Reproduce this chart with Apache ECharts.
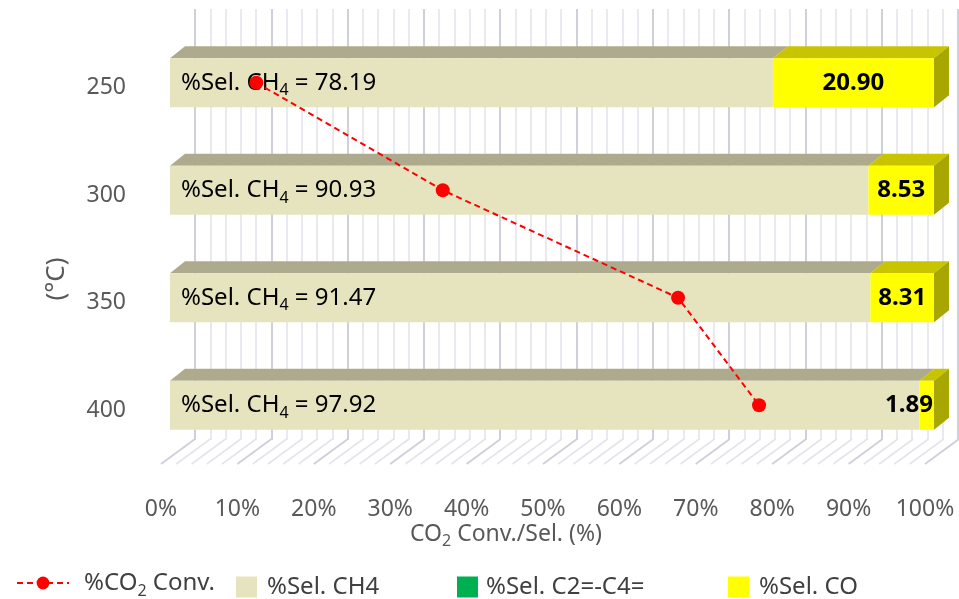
<!DOCTYPE html>
<html>
<head>
<meta charset="utf-8">
<script src="https://cdn.jsdelivr.net/npm/echarts@6/dist/echarts.min.js"></script>
<style>
  html, body { margin: 0; padding: 0; background: #ffffff; }
  #chart { width: 959px; height: 599px; }
</style>
</head>
<body>
<div id="chart"></div>
<script>
// Reaction temperature (°C) for each bar
const temperatures = ['250', '300', '350', '400'];
// Product selectivities (%)
const selCH4 = [78.19, 90.93, 91.47, 97.92];
const selC2C4 = [0, 0, 0, 0];
const selCO = [20.90, 8.53, 8.31, 1.89];
// CO2 conversion (%)
const convCO2 = [11.3, 35.7, 66.5, 77.1];
// Percentage axis
const axisMin = 0;
const axisMax = 100;
const axisStep = 10;
const minorStep = 2;

const FONT = "'Noto Sans', 'Open Sans', sans-serif";
const BAR_DEPTH = [15, -12];     // extrusion of each bar (top / side faces)
const WALL_DEPTH = [34, -25];    // floor depth from the front edge to the back wall
const BAR_FRACTION = 0.456;      // bar thickness as a share of the category band

const chart = echarts.init(document.getElementById('chart'));

// 100% stacked layout: each row is scaled to the sum of its parts
const rowTotals = selCH4.map((v, i) => v + selC2C4[i] + selCO[i]);
const seriesValues = [selCH4, selC2C4, selCO];
function stackedSegments(k) {
  return temperatures.map((t, i) => {
    let start = 0;
    for (let j = 0; j < k; j++) start += seriesValues[j][i] / rowTotals[i] * 100;
    const end = start + seriesValues[k][i] / rowTotals[i] * 100;
    return [start, end, i, seriesValues[k][i]];
  });
}

const palette = {
  ch4: { front: '#E6E4BF', top: '#AEAA8E', side: '#9C987C' },
  c2c4: { front: '#00B050', top: '#008C40', side: '#007030' },
  co: { front: '#FFFF00', top: '#C8C400', side: '#A8A600' }
};

function barRenderer(colors, hasSide, labelKind) {
  return function (params, api) {
    const start = api.value(0), end = api.value(1), row = api.value(2), raw = api.value(3);
    const p0 = api.coord([start, row]);
    const p1 = api.coord([end, row]);
    const h = api.size([0, 1])[1] * BAR_FRACTION;
    const x0 = p0[0], x1 = p1[0];
    const yTop = p0[1] - h / 2, yBot = p0[1] + h / 2;
    if (x1 - x0 < 0.05) return null;
    const dx = BAR_DEPTH[0], dy = BAR_DEPTH[1];
    const children = [
      { type: 'polygon', shape: { points: [[x0, yTop], [x0 + dx, yTop + dy], [x1 + dx, yTop + dy], [x1, yTop]] },
        style: { fill: colors.top } },
      { type: 'rect', shape: { x: x0, y: yTop, width: x1 - x0, height: h },
        style: { fill: colors.front } }
    ];
    if (hasSide) {
      children.push({ type: 'polygon',
        shape: { points: [[x1, yTop], [x1 + dx, yTop + dy], [x1 + dx, yBot + dy], [x1, yBot]] },
        style: { fill: colors.side } });
    }
    if (labelKind === 'ch4') {
      children.push({ type: 'text', x: x0 + 11, y: p0[1], z2: 5,
        style: {
          text: '{n|%Sel. CH}{s|4}{n| = ' + raw.toFixed(2) + '}',
          align: 'left', verticalAlign: 'middle',
          rich: {
            n: { fontFamily: FONT, fontSize: 24, color: '#333333', lineHeight: 32 },
            s: { fontFamily: FONT, fontSize: 16, color: '#333333', lineHeight: 16, verticalAlign: 'bottom' }
          }
        } });
    } else if (labelKind === 'co') {
      const narrow = (x1 - x0) < 60;
      children.push({ type: 'text', x: narrow ? x1 - 1 : (x0 + x1) / 2, y: p0[1], z2: 5,
        style: {
          text: raw.toFixed(2), fill: '#000000',
          fontFamily: FONT, fontSize: 24, fontWeight: 'bold',
          align: narrow ? 'right' : 'center', verticalAlign: 'middle'
        } });
    }
    return { type: 'group', children: children };
  };
}

const gridFront = { left: 161, top: 34, width: 764, height: 430 };   // floor front edge / axis labels
const gridBars = { left: 170, top: 29, width: 764, height: 430 };    // bar front faces
const gridWall = { left: 195, top: 9, width: 763, height: 431 };     // back wall

const minorTicks = [];
for (let v = axisMin; v <= axisMax + 1e-9; v += minorStep) minorTicks.push(v);

const legendText = { fontFamily: FONT, fontSize: 24, color: '#404040' };

chart.setOption({
  animation: false,
  backgroundColor: '#ffffff',
  textStyle: { fontFamily: FONT },
  grid: [gridFront, gridBars, gridWall],
  xAxis: [
    { gridIndex: 0, type: 'value', min: axisMin, max: axisMax, interval: axisStep,
      axisLine: { show: false }, axisTick: { show: false }, splitLine: { show: false },
      axisLabel: { margin: 34, formatter: '{value}%', fontFamily: FONT, fontSize: 23, color: '#595959' } },
    { gridIndex: 1, type: 'value', min: axisMin, max: axisMax, show: false },
    { gridIndex: 2, type: 'value', min: axisMin, max: axisMax, interval: axisStep,
      axisLine: { show: false }, axisTick: { show: false }, axisLabel: { show: false },
      splitLine: { show: true, lineStyle: { color: '#D0D0DC', width: 2 } },
      minorTick: { show: false, splitNumber: axisStep / minorStep },
      minorSplitLine: { show: true, lineStyle: { color: '#E4E4EB', width: 1.6 } } }
  ],
  yAxis: [
    { gridIndex: 0, type: 'category', data: temperatures, inverse: true,
      axisLine: { show: false }, axisTick: { show: false },
      axisLabel: { margin: 35, fontFamily: FONT, fontSize: 23, color: '#595959' } },
    { gridIndex: 1, type: 'category', data: temperatures, inverse: true, show: false },
    { gridIndex: 2, type: 'category', data: temperatures, inverse: true, show: false }
  ],
  legend: [
    { data: ['%CO2 Conv.'], left: 11, top: 566, itemWidth: 52, itemHeight: 16,
      formatter: () => '{n|%CO}{s|2}{n| Conv.}',
      textStyle: { padding: [0, 0, 0, 10], rich: {
        n: { fontFamily: FONT, fontSize: 24, color: '#404040', lineHeight: 32 },
        s: { fontFamily: FONT, fontSize: 16, color: '#404040', lineHeight: 16, verticalAlign: 'bottom' } } } },
    { data: ['%Sel. CH4'], left: 231, top: 570, icon: 'rect', itemWidth: 21, itemHeight: 21,
      textStyle: Object.assign({ padding: [0, 0, 0, 5] }, legendText) },
    { data: ['%Sel. C2=-C4='], left: 452, top: 570, icon: 'rect', itemWidth: 21, itemHeight: 21,
      textStyle: Object.assign({ padding: [0, 0, 0, 3] }, legendText) },
    { data: ['%Sel. CO'], left: 723, top: 570, icon: 'rect', itemWidth: 21, itemHeight: 21,
      textStyle: Object.assign({ padding: [0, 0, 0, 5] }, legendText) }
  ],
  graphic: [
    { type: 'text', left: 410, top: 523,
      style: { text: '{a|CO}{s|2}{a| Conv./Sel. (%)}', rich: {
        a: { fontFamily: FONT, fontSize: 23, fill: '#595959', color: '#595959', lineHeight: 30 },
        s: { fontFamily: FONT, fontSize: 16, fill: '#595959', color: '#595959', lineHeight: 16, verticalAlign: 'bottom' } } } },
    { type: 'text', x: 57, y: 279, rotation: Math.PI / 2,
      style: { text: '(°C)', fontFamily: FONT, fontSize: 26, fill: '#595959', align: 'center', verticalAlign: 'middle' } }
  ],
  series: [
    // floor hatching between the front edge and the back wall
    { type: 'custom', name: 'floor', xAxisIndex: 0, yAxisIndex: 0, silent: true, z: 1,
      data: minorTicks.map(v => [v]),
      encode: { x: 0 },
      renderItem: function (params, api) {
        const v = api.value(0);
        const x = api.coord([v, 0])[0];
        const yb = params.coordSys.y + params.coordSys.height;
        const major = Math.abs(v / axisStep - Math.round(v / axisStep)) < 1e-6;
        return { type: 'line',
          shape: { x1: x, y1: yb, x2: x + WALL_DEPTH[0], y2: yb + WALL_DEPTH[1] },
          style: { stroke: major ? '#D0D0DC' : '#E4E4EB', lineWidth: major ? 2 : 1.6 } };
      } },
    { type: 'custom', name: '%Sel. CH4', xAxisIndex: 1, yAxisIndex: 1, z: 3,
      itemStyle: { color: palette.ch4.front },
      data: stackedSegments(0), encode: { x: [0, 1], y: 2 },
      renderItem: barRenderer(palette.ch4, false, 'ch4') },
    { type: 'custom', name: '%Sel. C2=-C4=', xAxisIndex: 1, yAxisIndex: 1, z: 3,
      itemStyle: { color: palette.c2c4.front },
      data: stackedSegments(1), encode: { x: [0, 1], y: 2 },
      renderItem: barRenderer(palette.c2c4, false, null) },
    { type: 'custom', name: '%Sel. CO', xAxisIndex: 1, yAxisIndex: 1, z: 3,
      itemStyle: { color: palette.co.front },
      data: stackedSegments(2), encode: { x: [0, 1], y: 2 },
      renderItem: barRenderer(palette.co, true, 'co') },
    { type: 'line', name: '%CO2 Conv.', xAxisIndex: 1, yAxisIndex: 1, z: 10,
      data: convCO2.map((v, i) => [v, temperatures[i]]),
      symbol: 'circle', symbolSize: 14,
      itemStyle: { color: '#FF0000' },
      lineStyle: { color: '#FF0000', width: 2, type: [6, 4] } }
  ]
});
</script>
</body>
</html>
